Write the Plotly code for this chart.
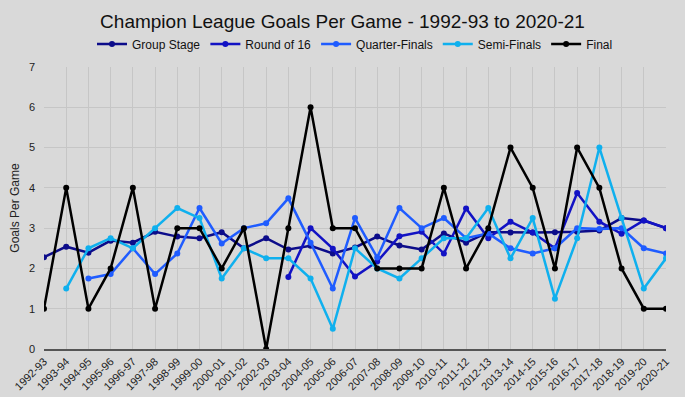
import plotly.graph_objects as go

seasons = ["1992-93","1993-94","1994-95","1995-96","1996-97","1997-98","1998-99","1999-00",
           "2000-01","2001-02","2002-03","2003-04","2004-05","2005-06","2006-07","2007-08",
           "2008-09","2009-10","2010-11","2011-12","2012-13","2013-14","2014-15","2015-16",
           "2016-17","2017-18","2018-19","2019-20","2020-21"]

group_stage = [2.28, 2.54, 2.39, 2.69, 2.64, 2.91, 2.79, 2.75, 2.90, 2.50, 2.75, 2.47, 2.56, 2.37,
               2.52, 2.79, 2.57, 2.47, 2.87, 2.64, 2.90, 2.89, 2.89, 2.90, 2.91, 2.94, 3.25, 3.19, 3.00]
round_of_16 = [None]*11 + [1.79, 3.00, 2.49, 1.80, 2.17, 2.80, 2.91, 2.37, 3.49, 2.75, 3.16, 2.89,
                           2.50, 3.87, 3.16, 2.86, 3.19, 3.00]
quarter_finals = [None, None, 1.75, 1.86, 2.50, 1.86, 2.37, 3.50, 2.62, 3.00, 3.12, 3.74, 2.64, 1.50,
                  3.25, 2.27, 3.50, 3.00, 3.25, 2.75, 2.87, 2.50, 2.37, 2.50, 3.00, 2.98, 3.00, 2.50, 2.37]
semi_finals = [None, 1.50, 2.50, 2.75, 2.50, 3.00, 3.50, 3.25, 1.75, 2.50, 2.25, 2.25, 1.75, 0.50,
               2.50, 2.00, 1.75, 2.25, 2.75, 2.75, 3.50, 2.25, 3.25, 1.25, 2.75, 5.00, 3.25, 1.50, 2.25]
final = [1, 4, 1, 2, 4, 1, 3, 3, 2, 3, 0, 3, 6, 3, 3, 2, 2, 2, 4, 2, 3, 5, 4, 2, 5, 4, 2, 1, 1]

series = [
    ("Group Stage", group_stage, "#0c0c8a"),
    ("Round of 16", round_of_16, "#1212c4"),
    ("Quarter-Finals", quarter_finals, "#1f5cff"),
    ("Semi-Finals", semi_finals, "#0fb0ee"),
    ("Final", final, "#000000"),
]

fig = go.Figure()
for name, vals, color in series:
    fig.add_trace(go.Scatter(
        x=seasons, y=vals, name=name, mode="lines+markers",
        line=dict(color=color, width=2.5),
        marker=dict(color=color, size=6),
        connectgaps=False,
    ))

fig.update_layout(
    width=685, height=397,
    paper_bgcolor="#d9d9d9", plot_bgcolor="#d9d9d9",
    font=dict(family="Liberation Sans, Arial, sans-serif", color="#1a1a1a"),
    title=dict(text="Champion League Goals Per Game - 1992-93 to 2020-21",
               x=0.5, xanchor="center", y=1 - 15/397, yanchor="top",
               font=dict(size=19, color="#111111")),
    legend=dict(orientation="h", x=0.5, xanchor="center", y=1.03, yanchor="bottom",
                font=dict(size=12, color="#111111"), itemwidth=30,
                bgcolor="rgba(0,0,0,0)", tracegroupgap=0),
    margin=dict(l=44, r=19, t=67, b=48),
    xaxis=dict(type="category", range=[0, 28], showgrid=True, gridcolor="#c6c6c6",
               gridwidth=1, tickangle=-45, tickfont=dict(size=11, color="#222222"),
               showline=True, linecolor="#555555", linewidth=1.5, ticks="", zeroline=False,
               automargin=False),
    yaxis=dict(range=[0, 7], dtick=1, showgrid=True, gridcolor="#c6c6c6", gridwidth=1,
               tickfont=dict(size=11, color="#222222"), zeroline=False,
               title=dict(text="Goals Per Game", font=dict(size=12, color="#222222"), standoff=6),
               ticks="", ticklabelstandoff=8, automargin=False),
)

fig.write_html("out.html", config={"displayModeBar": False},
               post_script="document.body.style.margin='0';document.body.style.overflow='hidden';")
